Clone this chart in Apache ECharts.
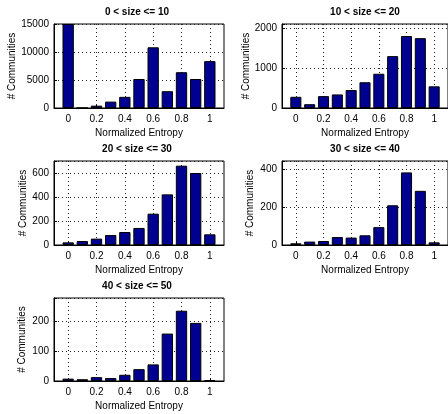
<!DOCTYPE html>
<html>
<head>
<meta charset="utf-8">
<script src="https://cdn.jsdelivr.net/npm/echarts@6/dist/echarts.min.js"></script>
<style>
html,body{margin:0;padding:0;background:#fff;}
#c{width:448px;height:414px;}
</style>
</head>
<body>
<div id="c"></div>
<script>
// ---- data ----
const entropyBins = ['0','0.1','0.2','0.3','0.4','0.5','0.6','0.7','0.8','0.9','1'];
const panelTitles = ['0 < size <= 10','10 < size <= 20','20 < size <= 30','30 < size <= 40','40 < size <= 50'];
const counts0to10  = [15000, 0, 420, 1140, 1990, 5180, 10840, 3000, 6390, 5180, 8370];
const counts10to20 = [280, 95, 297, 339, 449, 644, 856, 1297, 1800, 1746, 542];
const counts20to30 = [22, 33, 53, 83, 108, 142, 261, 422, 661, 600, 89];
const counts30to40 = [9, 18, 21, 42, 39, 51, 94, 209, 382, 285, 14];
const counts40to50 = [8, 6, 13, 10, 21, 40, 56, 160, 237, 196, 3];
const yMaxes = [15000, 2100, 700, 442, 280];
const yTickSteps = [5000, 1000, 200, 200, 100];
const xAxisTitle = 'Normalized Entropy';
const yAxisTitle = '# Communities';

// ---- layout ----
const layout = [
  {left: 54,  top: 24,  width: 170, height: 84, yGap: 37},
  {left: 282, top: 24,  width: 170, height: 84, yGap: 31},
  {left: 54,  top: 161, width: 170, height: 84, yGap: 26},
  {left: 282, top: 161, width: 170, height: 84, yGap: 27},
  {left: 54,  top: 298, width: 170, height: 83, yGap: 27}
];
const allCounts = [counts0to10, counts10to20, counts20to30, counts30to40, counts40to50];

const xCats = ['-0.1'].concat(entropyBins).concat(['1.1']);
const isMajor = (i) => i % 2 === 1;
const font = 'Liberation Sans, Arial, Helvetica, sans-serif';
const gridLine = {show: true, interval: isMajor, lineStyle: {color: '#222', type: [1, 3], width: 1}};

const option = {
  backgroundColor: '#fff',
  animation: false,
  textStyle: {fontFamily: font},
  title: [], grid: [], xAxis: [], yAxis: [], series: []
};

layout.forEach((L, k) => {
  option.title.push({
    text: panelTitles[k],
    left: L.left + L.width / 2 - 2,
    top: L.top - 17,
    textAlign: 'center',
    padding: 0,
    textStyle: {fontSize: 10, fontWeight: 'bold', color: '#000', fontFamily: font}
  });
  option.grid.push({
    left: L.left, top: L.top, width: L.width, height: L.height,
    show: true, borderColor: '#000', borderWidth: 1, backgroundColor: '#fff',
    containLabel: false
  });
  option.xAxis.push({
    type: 'category', gridIndex: k, data: xCats, boundaryGap: false,
    axisLine: {show: true, lineStyle: {color: '#000', width: 1}},
    axisTick: {show: true, inside: true, length: 3, interval: isMajor, lineStyle: {color: '#000'}},
    axisLabel: {show: true, interval: isMajor, margin: 6, fontSize: 10, color: '#000', fontFamily: font},
    splitLine: gridLine,
    name: xAxisTitle, nameLocation: 'middle', nameGap: 20,
    nameTextStyle: {fontSize: 10, color: '#000', fontFamily: font}
  });
  const step = yTickSteps[k];
  option.yAxis.push({
    type: 'value', gridIndex: k, min: 0, max: yMaxes[k], interval: step,
    axisLine: {show: true, lineStyle: {color: '#000', width: 1}},
    axisTick: {show: true, inside: true, length: 3, lineStyle: {color: '#000'}},
    axisLabel: {margin: 5, fontSize: 10, color: '#000', fontFamily: font,
      formatter: (v) => (Math.abs(v % step) < 1e-9 ? String(v) : '')},
    splitLine: {show: true, lineStyle: {color: '#222', type: [1, 3], width: 1}},
    name: yAxisTitle, nameLocation: 'middle', nameGap: L.yGap, nameRotate: 90,
    nameTextStyle: {fontSize: 10, color: '#000', fontFamily: font}
  });
  option.series.push({
    type: 'bar', xAxisIndex: k, yAxisIndex: k,
    data: ['-'].concat(allCounts[k]).concat(['-']),
    barWidth: '80%',
    itemStyle: {color: '#000090', borderColor: '#000', borderWidth: 1},
    clip: true
  });
});

const chart = echarts.init(document.getElementById('c'), null, {renderer: 'canvas'});
chart.setOption(option);
</script>
</body>
</html>
